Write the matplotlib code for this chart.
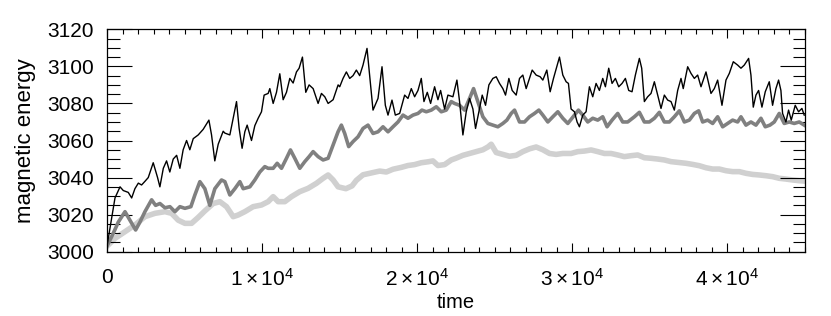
import matplotlib
matplotlib.use("Agg")
import matplotlib.pyplot as plt
from matplotlib.ticker import MultipleLocator

plt.rcParams['font.family'] = ['Liberation Sans', 'DejaVu Sans']
plt.rcParams['mathtext.fontset'] = 'custom'
plt.rcParams['mathtext.rm'] = 'Liberation Sans'
plt.rcParams['mathtext.it'] = 'Liberation Sans:italic'
plt.rcParams['mathtext.bf'] = 'Liberation Sans:bold'

# ---- data ----
black_t = [0, 515, 840, 1050, 1370, 1590, 1800, 2020, 2230, 2450, 2660, 2980, 3260, 3410, 3630, 3840,
           4050, 4270, 4490, 4700, 4910, 5130, 5340, 5560, 5880, 6200, 6570, 6740, 6950, 7170, 7490,
           7598, 7920, 8135, 8350, 8520, 8710, 8886, 9036, 9315, 9530, 9745, 9960, 10130, 10390, 10497,
           10712, 10927, 11140, 11356, 11570, 11785, 12000, 12215, 12386, 12600, 12815, 13030, 13290,
           13610, 13825, 14040, 14255, 14577, 14900, 15003, 15217, 15432, 15647, 15861, 16076, 16290,
           16505, 16763, 16935, 17150, 17472, 17730, 17944, 18116, 18373, 18588, 18867, 19189, 19404,
           19618, 19833, 20048, 20262, 20434, 20648, 20863, 21120, 21335, 21507, 21765, 21979, 22301,
           22559, 22730, 22945, 23160, 23375, 23590, 23760, 23975, 24190, 24405, 24620, 24877, 25092,
           25306, 25521, 25693, 25908, 26122, 26380, 26595, 26809, 27024, 27239, 27411, 27668, 27926,
           28098, 28355, 28570, 28785, 28999, 29171, 29386, 29600, 29749, 29920, 30135, 30307, 30457,
           30672, 30886, 31101, 31316, 31531, 31745, 31960, 32132, 32346, 32561, 32776, 32990, 33205,
           33420, 33635, 33849, 34064, 34322, 34472, 34644, 34858, 35073, 35288, 35503, 35717, 35932,
           36147, 36361, 36576, 36791, 37006, 37150, 37436, 37651, 37866, 38080, 38295, 38617, 38939,
           39153, 39368, 39647, 39905, 40120, 40377, 40657, 40871, 41086, 41365, 41515, 41665, 41837,
           42009, 42224, 42438, 42696, 42910, 43125, 43297, 43447, 43554, 43769, 43941, 44113, 44370,
           44585, 44800, 44950]
black_e = [3003, 3029, 3035, 3033, 3032, 3029, 3034, 3037, 3036, 3038, 3040, 3048, 3040, 3035, 3045, 3049,
           3043, 3050, 3052, 3045, 3055, 3060, 3055, 3061, 3063, 3066, 3071, 3063, 3049, 3058, 3065,
           3064, 3063, 3072, 3081, 3066.5, 3055.8, 3064.7, 3068.3, 3060, 3068, 3072, 3075.5, 3084.5, 3085.4, 3088,
           3080, 3086, 3096, 3082, 3086, 3093.5, 3091, 3097, 3099, 3105, 3086, 3090, 3088,
           3080, 3085.4, 3083.6, 3080, 3082, 3090, 3089, 3093.5, 3097, 3093.5, 3095, 3098, 3095,
           3100.7, 3109.7, 3095, 3076.4, 3082.7, 3099.8, 3079, 3073.7, 3081.8, 3073.7, 3074.6, 3084.5, 3082.7,
           3088, 3083.6, 3087, 3093.5, 3081, 3086, 3080, 3089, 3082, 3087, 3077, 3084.5, 3083.6,
           3092.6, 3081, 3063, 3075.5, 3082.7, 3077, 3066.5, 3075.5, 3084.5, 3079, 3090, 3093.5, 3094.4,
           3090.8, 3088, 3084.5, 3093.5, 3087, 3084.5, 3093.5, 3095.3, 3088, 3093.5, 3098, 3095.3, 3094.4,
           3092.6, 3098, 3086.3, 3093.5, 3099.8, 3105, 3095.3, 3091.7, 3090.8, 3077, 3075.5, 3070, 3067.4,
           3073.7, 3075.5, 3089, 3083.6, 3090.8, 3087, 3093.5, 3089, 3099, 3090.8, 3093.5, 3089, 3090.8,
           3093.5, 3087, 3086.3, 3095.3, 3104.3, 3099, 3081, 3083.6, 3085.4, 3091.7, 3084.5, 3077.3, 3084.5,
           3081.8, 3081, 3076.4, 3087, 3093.5, 3088, 3099.8, 3096.2, 3093.5, 3095.3, 3089, 3097, 3085.4,
           3088, 3092.6, 3079, 3092.6, 3096.2, 3102.5, 3100.7, 3099, 3100.7, 3104.3, 3095.3, 3078, 3084.5,
           3087, 3078, 3086.3, 3091.7, 3079, 3088, 3092.6, 3087, 3074.6, 3070, 3076.4, 3071, 3079,
           3075.5, 3077.3, 3073.7]

dark_t = [0, 408, 730, 1160, 1480, 1845, 2125, 2446, 2876, 3133, 3412, 3734, 4056, 4378, 4700, 5022,
          5408, 5665, 5987, 6309, 6631, 6953, 7382, 7598, 7920, 8243, 8565, 8779, 9209, 9530, 9852,
          10174, 10389, 10712, 10970, 11249, 11570, 11828, 12107, 12429, 12751, 13030, 13288, 13610,
          13932, 14255, 14577, 14896, 15110, 15325, 15582, 15861, 16183, 16505, 16827, 17150, 17472,
          17794, 18116, 18438, 18760, 19082, 19404, 19726, 20048, 20305, 20584, 20906, 21228, 21550,
          21872, 22194, 22408, 22730, 23052, 23375, 23632, 23911, 24233, 24555, 24877, 25199, 25521,
          25779, 26058, 26273, 26595, 26917, 27239, 27561, 27840, 28098, 28420, 28742, 29064, 29386,
          29708, 30135, 30393, 30672, 30994, 31316, 31638, 31960, 32239, 32561, 32926, 33248, 33570,
          34000, 34322, 34644, 34966, 35288, 35610, 35932, 36254, 36576, 36898, 37222, 37544, 37866,
          38145, 38402, 38724, 39046, 39368, 39690, 40012, 40334, 40657, 40871, 41193, 41515, 41837,
          42159, 42438, 42739, 43018, 43340, 43662, 43984, 44306, 44628, 44950]
dark_e = [3003, 3010, 3016, 3021.6, 3017, 3011.7, 3016, 3021.6, 3028, 3025, 3026, 3023.7, 3024.3, 3021.6,
          3024.3, 3023.4, 3024.3, 3030.6, 3037.8, 3034, 3025, 3034, 3038.7, 3037.8, 3030.6, 3034, 3037.8,
          3034, 3035, 3038.7, 3043, 3045.9, 3045, 3045, 3047.7, 3045, 3050.4, 3054.9, 3050.4, 3045,
          3048.6, 3051.3, 3054, 3051.3, 3049.5, 3050.4, 3057.6, 3064.7, 3068.3, 3063.8, 3056.7, 3059.4,
          3062, 3066.5, 3068.3, 3063.8, 3064.7, 3067.4, 3064.7, 3067.4, 3070, 3073.7, 3072, 3073.7,
          3074.6, 3076.4, 3075.5, 3076.4, 3078.2, 3075.5, 3076.4, 3081, 3080, 3079, 3076.4, 3082.7,
          3088, 3081, 3072.8, 3069.2, 3068.3, 3067.4, 3069.2, 3071, 3074.6, 3076.4, 3070, 3070, 3072.8,
          3074.6, 3076.4, 3073.7, 3070, 3072.8, 3075.5, 3072, 3069.2, 3073.7, 3076.4, 3073.7, 3070,
          3072, 3071, 3072.8, 3067.4, 3071, 3074.6, 3070, 3070, 3072.8, 3075.2, 3070, 3070, 3072,
          3075.2, 3070, 3070, 3072.8, 3076, 3070, 3071, 3074.6, 3076, 3070, 3071, 3069.2, 3072.8,
          3067.4, 3069.2, 3071, 3070, 3072.8, 3068.3, 3070, 3068.3, 3072, 3067.4, 3068.3, 3070, 3074.6,
          3069.2, 3070, 3069.2, 3070, 3068.3]

light_t = [0, 515, 1160, 1800, 2446, 3090, 3734, 4163, 4592, 5022, 5450, 5880, 6309, 6846, 7276, 7705,
           8135, 8457, 8886, 9423, 9960, 10389, 10712, 11034, 11463, 11892, 12429, 12966, 13503, 13932,
           14255, 14577, 14900, 15400, 15800, 16076, 16505, 17043, 17580, 18009, 18438, 18975, 19404,
           19833, 20262, 20691, 21013, 21335, 21765, 22194, 22515, 22945, 23375, 23804, 24233, 24555,
           24770, 25092, 25521, 25950, 26380, 26809, 27239, 27668, 28098, 28527, 28956, 29386, 29920,
           30350, 30779, 31208, 31638, 32067, 32497, 32926, 33355, 33785, 34215, 34644, 35073, 35503,
           35932, 36361, 36791, 37329, 37758, 38188, 38617, 39046, 39476, 39905, 40334, 40764, 41193,
           41623, 42052, 42481, 42910, 43340, 43769, 44199, 44628, 44950]
light_e = [3003, 3007.2, 3010.8, 3014.4, 3018.9, 3020.7, 3021.6, 3020.7, 3017, 3015.3, 3015.3, 3018.5,
           3022, 3026, 3027, 3024.3, 3018.9, 3019.8, 3021.6, 3024.3, 3025.2, 3027, 3029.7, 3027, 3027,
           3029.7, 3032.4, 3034.2, 3036.9, 3039.6, 3041.4, 3038.7, 3035, 3034, 3035.5, 3038.5, 3041.5,
           3042.5, 3043.5, 3043, 3044.5, 3045.5, 3046.5, 3047, 3048, 3048.5, 3049, 3046.5, 3047, 3049.5,
           3050.5, 3052, 3053, 3054, 3055, 3056.5, 3058, 3053.5, 3052.5, 3051.5, 3052, 3054, 3055.5,
           3056.5, 3055, 3053, 3052.5, 3053, 3053, 3054, 3054.3, 3054.9, 3054, 3053, 3053, 3052.2,
           3051.3, 3051.8, 3052.2, 3050.7, 3050.4, 3050, 3049.5, 3048.6, 3048.2, 3047.7, 3047.1, 3046.4,
           3045.3, 3044.6, 3044.6, 3043.7, 3043.2, 3043.2, 3042.3, 3041.7, 3041.4, 3041, 3040.5, 3039.6,
           3039.2, 3038.7, 3038.3, 3038.1]

x_major = [0, 10000, 20000, 30000, 40000]
x_labels = ['0', r'$1\times10^{4}$', r'$2\times10^{4}$', r'$3\times10^{4}$', r'$4\times10^{4}$']
y_major = [3000, 3020, 3040, 3060, 3080, 3100, 3120]

# ---- figure ----
fig = plt.figure(figsize=(8.31, 3.16), dpi=100)
ax = fig.add_axes([107/831, 1 - 251.7/316, (805 - 107)/831, (251.7 - 29.3)/316])

ax.plot(light_t, light_e, color='#d0d0d0', lw=4.0, solid_joinstyle='round', zorder=1)
ax.plot(dark_t, dark_e, color='#808080', lw=2.6, solid_joinstyle='round', zorder=2)
ax.plot(black_t, black_e, color='black', lw=1.0, zorder=3)

ax.set_xlim(0, 45000)
ax.set_ylim(3000, 3120)
ax.set_xticks(x_major)
ax.set_xticklabels(x_labels)
ax.set_yticks(y_major)
ax.xaxis.set_minor_locator(MultipleLocator(1000))
ax.yaxis.set_minor_locator(MultipleLocator(5))

for s in ax.spines.values():
    s.set_linewidth(0.9)

ax.tick_params(axis='both', which='both', direction='in', top=True, right=True,
               width=0.8, labelsize=15)
ax.tick_params(axis='x', which='major', length=6.8, pad=12)
ax.tick_params(axis='x', which='minor', length=3.3)
ax.tick_params(axis='y', which='major', length=18, pad=9.5)
ax.tick_params(axis='y', which='minor', length=9)

ax.set_xlabel('time', fontsize=14.5, labelpad=2)
ax.set_ylabel('magnetic energy', fontsize=16, labelpad=8)

fig.savefig('out.png', dpi=100)
